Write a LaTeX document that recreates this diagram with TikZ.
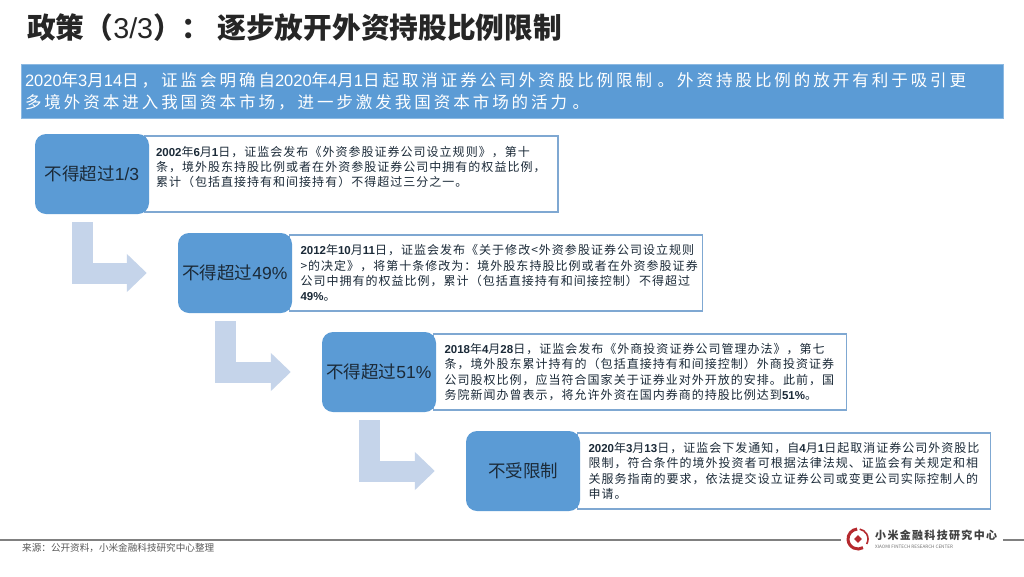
\documentclass[tikz,border=0pt]{standalone}
\usepackage{fontspec}
\setmainfont{Noto Sans CJK SC}
\newfontfamily\bannerfont[LetterSpace=18]{Noto Sans CJK SC}
\newfontfamily\notefont[LetterSpace=8.5]{Noto Sans CJK SC}
\newfontfamily\brandfont[LetterSpace=12]{Noto Sans CJK SC}
\newfontfamily\latinfont{Liberation Sans}
\newcommand{\dg}[1]{{\latinfont #1}}
\newcommand{\dgb}[1]{{\latinfont\bfseries\fontsize{11.5}{15.2}\selectfont #1}}
\usepackage{tikz}
\usetikzlibrary{arrows.meta,shapes.geometric}
\definecolor{xmblue}{HTML}{5B9BD5}
\definecolor{xmedge}{HTML}{7FA8D2}
\definecolor{xmpale}{HTML}{C5D4EA}
\definecolor{xmink}{HTML}{1B2A38}
\definecolor{xmred}{HTML}{B5292E}

\begin{document}
\begin{tikzpicture}[
    x=1pt, y=-1pt,
    heading/.style={anchor=west, inner sep=0pt, font=\fontsize{28.7}{32}\selectfont\bfseries, text=black!85},
    banner/.style={fill=xmblue, draw=xmblue!70!white, minimum width=982pt, minimum height=54pt, inner xsep=4pt, inner ysep=0pt, text width=974pt, align=left, text=white, font=\bannerfont\fontsize{16.5}{22}\selectfont},
    note/.style={draw=xmedge, line width=1.6pt, fill=white, minimum height=76pt, inner xsep=11pt, inner ysep=0pt, text width=391pt, align=left, text=xmink, font=\notefont\fontsize{12}{15.2}\selectfont},
    tag/.style={fill=xmblue, rounded corners=11pt, minimum width=114pt, minimum height=80pt, inner sep=0pt, text=xmink, font=\fontsize{17.5}{20}\selectfont},
    elbow/.style={draw=xmpale, line width=21pt, shorten <=8pt, shorten >=31pt, -{Triangle[length=20pt,width=37pt]}},
    rule/.style={draw=black!50, line width=1.2pt},
    source/.style={anchor=west, inner sep=0pt, text=black!65, font=\fontsize{9.6}{11}\selectfont}
  ]
    \useasboundingbox (0,0) rectangle (1024,576);
    \fill[white] (0,0) rectangle (1024,576);

    \node[heading] (title) at (27,28) {政策（{\latinfont\mdseries 3/3}）：\kern7pt 逐步放开外资持股比例限制};
    \node[banner] (lead) at (512,91) {\dg{2020}年\dg{3}月\dg{14}日，证监会明确自\dg{2020}年\dg{4}月\dg{1}日起取消证券公司外资股比例限制 。外资持股比例的放开有利于吸引更\\多境外资本进入我国资本市场，进一步激发我国资本市场的活力 。};

    \node[note] (noteone) at (351.5,174) {\dgb{2002}年\dgb{6}月\dgb{1}日，证监会发布《外资参股证券公司设立规则》，第十\\条，境外股东持股比例或者在外资参股证券公司中拥有的权益比例，\\累计（包括直接持有和间接持有）不得超过三分之一。\\~};
    \node[note] (notetwo) at (496,273) {\dgb{2012}年\dgb{10}月\dgb{11}日，证监会发布《关于修改<外资参股证券公司设立规则\\>的决定》，将第十条修改为：境外股东持股比例或者在外资参股证券\\公司中拥有的权益比例，累计（包括直接持有和间接控制）不得超过\\\dgb{49\%}。};
    \node[note] (notethree) at (640,372) {\dgb{2018}年\dgb{4}月\dgb{28}日，证监会发布《外商投资证券公司管理办法》，第七\\条，境外股东累计持有的（包括直接持有和间接控制）外商投资证券\\公司股权比例，应当符合国家关于证券业对外开放的安排。此前，国\\务院新闻办曾表示，将允许外资在国内券商的持股比例达到\dgb{51\%}。};
    \node[note] (notefour) at (784,471) {\dgb{2020}年\dgb{3}月\dgb{13}日，证监会下发通知，自\dgb{4}月\dgb{1}日起取消证券公司外资股比\\限制，符合条件的境外投资者可根据法律法规、证监会有关规定和相\\关服务指南的要求，依法提交设立证券公司或变更公司实际控制人的\\申请。};

    \node[tag] (tagone) at (92,174) {不得超过\dg{1/3}};
    \node[tag] (tagtwo) at (235,273) {不得超过\dg{49\%}};
    \node[tag] (tagthree) at (379,372) {不得超过\dg{51\%}};
    \node[tag] (tagfour) at (523,471) {不受限制};

    \draw[elbow] ([xshift=-10pt]tagone.south) |- (tagtwo.west);
    \draw[elbow] ([xshift=-10pt]tagtwo.south) |- (tagthree.west);
    \draw[elbow] ([xshift=-10pt]tagthree.south) |- (tagfour.west);

    \coordinate (ruleleft) at (0,540);
    \coordinate (ruleend) at (841,540);
    \coordinate (ruleback) at (1003,540);
    \coordinate (ruleright) at (1024,540);
    \draw[rule] (ruleleft) -- (ruleend);
    \draw[rule] (ruleback) -- (ruleright);
    \node[source] (origin) at (22,548) {来源：公开资料，小米金融科技研究中心整理};

    \node[diamond, fill=xmred, inner sep=0pt, minimum size=8pt] (logocore) at (858,539) {};
    \draw[xmred, line width=3pt] ([shift={(95:10pt)}]logocore.center) arc (95:300:10pt);
    \draw[xmred, line width=1.6pt] ([shift={(330:10pt)}]logocore.center) arc (330:440:10pt);
    \node[anchor=west, inner sep=0pt, text=black!75, font=\brandfont\fontsize{11}{13}\selectfont\bfseries] (brand) at (875,535) {小米金融科技研究中心};
    \node[anchor=west, inner sep=0pt, text=black!55, font=\fontsize{4.6}{6}\selectfont] (brandline) at (875,547) {XIAOMI FINTECH RESEARCH CENTER};
  \end{tikzpicture}
\end{document}
